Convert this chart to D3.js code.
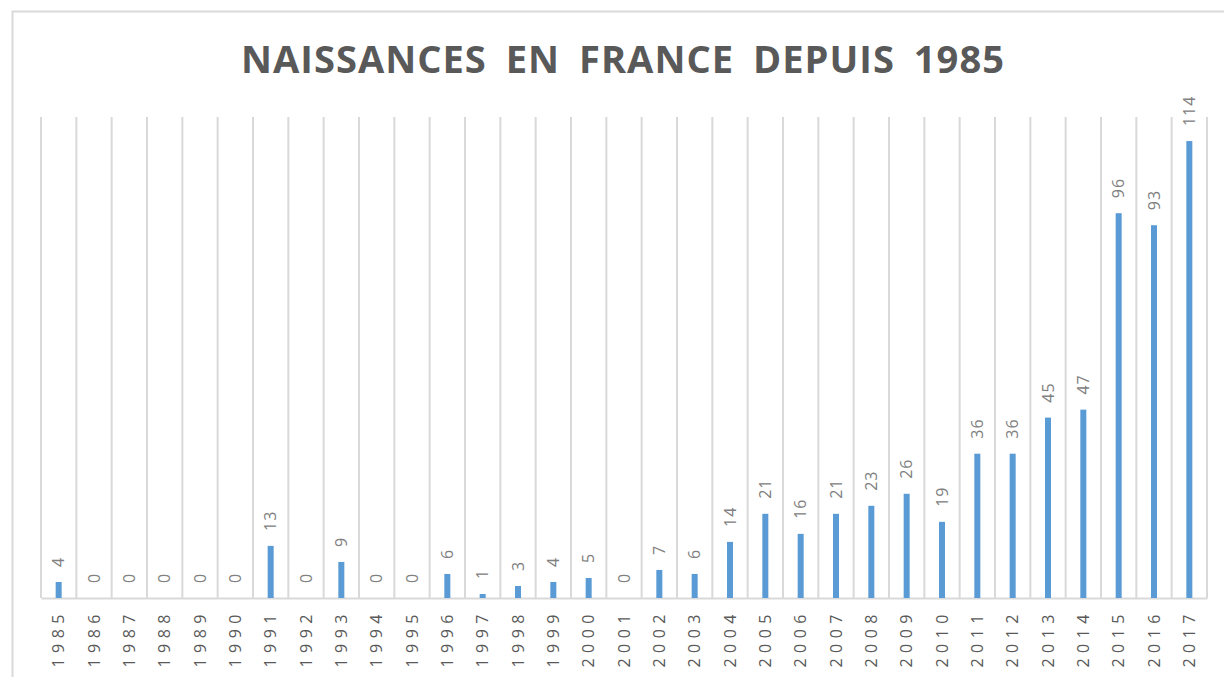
<!DOCTYPE html>
<html>
<head>
<meta charset="utf-8">
<script src="https://cdn.jsdelivr.net/npm/d3@7"></script>
<style>
    body { margin: 0; background: #fff; overflow: hidden; }
    svg { display: block; }
</style>
</head>
<body>
<div id="chart"></div>
<script>
// data
const years = ["1985","1986","1987","1988","1989","1990","1991","1992","1993","1994","1995",
    "1996","1997","1998","1999","2000","2001","2002","2003","2004","2005","2006","2007",
    "2008","2009","2010","2011","2012","2013","2014","2015","2016","2017"];
const births = [4,0,0,0,0,0,13,0,9,0,0,6,1,3,4,5,0,7,6,14,21,16,21,23,26,19,36,36,45,47,96,93,114];
const title = "NAISSANCES EN FRANCE DEPUIS 1985";

let width = 1224, height = 677;
let margin = {top: 117, left: 41, right: 17, bottom: 79};

let svg = d3.select("#chart").append("svg")
    .attr("width", width)
    .attr("height", height);

// outer frame
svg.append("rect")
    .attr("x", 12.5).attr("y", 11.5)
    .attr("width", 1240).attr("height", 700)
    .attr("fill", "none")
    .attr("stroke", "#d9d9d9")
    .attr("stroke-width", 2);

let innerW = width - margin.left - margin.right;
let innerH = height - margin.top - margin.bottom;

let g = svg.append("g")
    .attr("transform", `translate(${margin.left}, ${margin.top})`);

// scales
let x = d3.scaleBand()
    .domain(years)
    .range([0, innerW])
    .paddingInner(0.83)
    .paddingOuter(0.415);

let xGrid = d3.scaleBand()
    .domain(years)
    .range([0, innerW]);

let y = d3.scaleLinear()
    .domain([0, 120])
    .range([innerH, 0]);

// vertical gridlines between categories
let gridPos = years.map(d => xGrid(d)).concat([innerW]);
g.selectAll(".grid")
    .data(gridPos)
    .enter().append("line")
    .attr("class", "grid")
    .attr("x1", d => d).attr("x2", d => d)
    .attr("y1", 0).attr("y2", innerH)
    .attr("stroke", "#d9d9d9")
    .attr("stroke-width", 2);

// x axis
let xAxis = d3.axisBottom(xGrid).tickSize(0).tickPadding(0);
let ax = g.append("g")
    .attr("class", "x-axis")
    .attr("transform", `translate(0, ${innerH})`)
    .call(xAxis);

ax.select(".domain")
    .attr("stroke", "#d9d9d9")
    .attr("stroke-width", 2);

ax.selectAll("text")
    .attr("transform", "translate(0, 11) rotate(-90)")
    .attr("x", 0).attr("y", 0)
    .attr("dy", "0.35em")
    .style("text-anchor", "end")
    .style("font-family", "'Open Sans', sans-serif")
    .style("font-size", "16px")
    .style("letter-spacing", "5.5px")
    .style("fill", "#595959");

// bars
g.selectAll(".bar")
    .data(births)
    .enter().append("rect")
    .attr("class", "bar")
    .attr("x", (d, i) => x(years[i]))
    .attr("y", d => y(d))
    .attr("width", x.bandwidth())
    .attr("height", d => innerH - y(d))
    .attr("fill", "#5b9bd5");

// value labels
g.selectAll(".value")
    .data(births)
    .enter().append("text")
    .attr("class", "value")
    .attr("transform", (d, i) => `translate(${x(years[i]) + x.bandwidth() / 2}, ${y(d) - 15}) rotate(-90)`)
    .attr("dy", "0.35em")
    .style("text-anchor", "start")
    .style("font-family", "'Open Sans', sans-serif")
    .style("font-size", "16px")
    .style("letter-spacing", "1px")
    .style("fill", "#808080")
    .text(d => d);

// title
svg.append("text")
    .attr("x", 623)
    .attr("y", 73)
    .attr("text-anchor", "middle")
    .attr("textLength", 764)
    .attr("lengthAdjust", "spacingAndGlyphs")
    .style("font-family", "'Open Sans', sans-serif")
    .style("font-weight", "bold")
    .style("font-size", "38px")
    .style("letter-spacing", "1px")
    .style("word-spacing", "8px")
    .style("fill", "#595959")
    .text(title);
</script>
</body>
</html>
